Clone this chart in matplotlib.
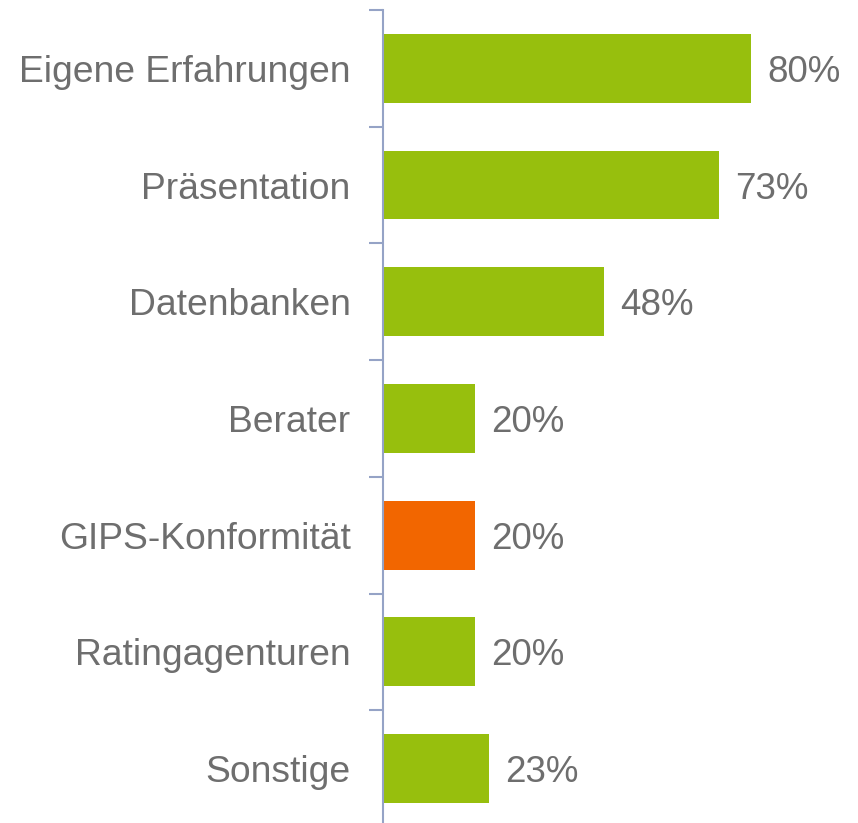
import matplotlib
matplotlib.use("Agg")
import matplotlib.pyplot as plt
import numpy as np

categories = ["Eigene Erfahrungen", "Präsentation", "Datenbanken", "Berater",
              "GIPS-Konformität", "Ratingagenturen", "Sonstige"]
values = [80, 73, 48, 20, 20, 20, 23]
highlight = "GIPS-Konformität"

green = "#97BF0D"
orange = "#F26600"
text_color = "#6E6E6E"
axis_color = "#95A3C6"

plt.rcParams['font.family'] = ['Liberation Sans', 'DejaVu Sans']

W, H = 858, 823
fig = plt.figure(figsize=(W / 100, H / 100), dpi=100)
ax_left = 382.5 / W
ax_bottom_px = 10 + 116.7 * len(categories)
ax = fig.add_axes([ax_left, 1 - ax_bottom_px / H, 461 / W, (ax_bottom_px - 10) / H])

y = np.arange(len(categories))
colors = [orange if c == highlight else green for c in categories]
ax.barh(y, values, height=0.59, color=colors, zorder=2)

for yi, v in zip(y, values):
    ax.text(v + 3.5, yi, f"{v}%", va="center_baseline", ha="left", fontsize=26.5,
            color=text_color)

ax.set_xlim(0, 100)
ax.set_ylim(len(categories) - 0.5, -0.5)
ax.set_yticks(y)
ax.set_yticklabels(categories, fontsize=26.8, color=text_color)
ax.tick_params(axis="y", which="major", length=0, pad=23)
ax.set_yticks(np.arange(-0.5, len(categories), 1.0), minor=True)
ax.tick_params(axis="y", which="minor", length=10, width=1.5, color=axis_color,
               direction="out")
ax.set_xticks([])
for s in ["top", "right", "bottom"]:
    ax.spines[s].set_visible(False)
ax.spines["left"].set_color(axis_color)
ax.spines["left"].set_linewidth(1.5)

fig.savefig("out.png", dpi=100)
